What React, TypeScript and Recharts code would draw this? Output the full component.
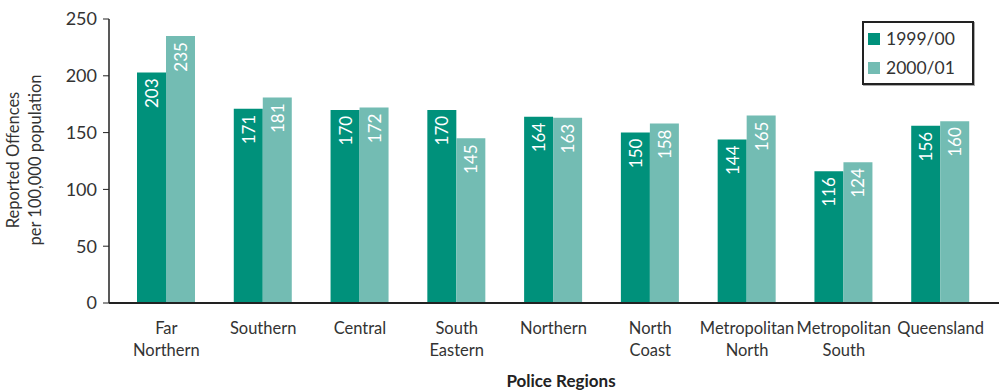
import React from 'react';
import { BarChart, Bar, XAxis, YAxis, LabelList } from 'recharts';

const regions = [
  'Far\nNorthern',
  'Southern',
  'Central',
  'South\nEastern',
  'Northern',
  'North\nCoast',
  'Metropolitan\nNorth',
  'Metropolitan\nSouth',
  'Queensland',
];
const y1999 = [203, 171, 170, 170, 164, 150, 144, 116, 156];
const y2000 = [235, 181, 172, 145, 163, 158, 165, 124, 160];
const yTicks = [0, 50, 100, 150, 200, 250];
const seriesNames = ['1999/00', '2000/01'];

const DARK = '#00917B';
const LIGHT = '#73BCB3';
const FONT = 'Lato, "Open Sans", sans-serif';

const data = regions.map((r, i) => ({ region: r, a: y1999[i], b: y2000[i] }));

const XTick = (props: any) => {
  const { x, y, payload } = props;
  const lines = String(payload.value).split('\n');
  return (
    <text x={x} y={y + 23} textAnchor="middle" fill="#333" fontSize={16.5} fontFamily={FONT}>
      {lines.map((l, i) => (
        <tspan key={i} x={x} dy={i === 0 ? 0 : 22}>{l}</tspan>
      ))}
    </text>
  );
};

const BarLabel = (props: any) => {
  const { x, y, width, value } = props;
  const cx = x + width / 2;
  const ty = y + 6;
  return (
    <text
      x={cx}
      y={ty}
      transform={`rotate(-90, ${cx}, ${ty})`}
      textAnchor="end"
      dominantBaseline="central"
      fill="#fff"
      fontSize={17}
      fontFamily={FONT}
    >
      {value}
    </text>
  );
};

const LegendBox = () => (
  <div
    style={{
      position: 'absolute',
      left: 862,
      top: 21,
      width: 104,
      height: 59,
      border: '2px solid #222',
      boxShadow: '1px 1px 0 #aaa',
      padding: '1px 0 0 4px',
      fontFamily: FONT,
      fontSize: 17.5,
      color: '#333',
      background: '#fff',
      boxSizing: 'content-box',
    }}
  >
    {seriesNames.map((t, i) => (
      <div key={t} style={{ display: 'flex', alignItems: 'center', height: 29 }}>
        <span style={{ width: 12, height: 12, background: i === 0 ? DARK : LIGHT, marginRight: 6, display: 'inline-block' }} />
        {t}
      </div>
    ))}
  </div>
);

const YLabel = () => (
  <text
    transform="rotate(-90, 19, 160)"
    x={19}
    y={160}
    textAnchor="middle"
    fill="#333"
    fontSize={16.5}
    fontFamily={FONT}
  >
    <tspan x={19} dy={0}>Reported Offences</tspan>
    <tspan x={19} dy={22}>per 100,000 population</tspan>
  </text>
);

export default function App() {
  return (
    <div style={{ position: 'absolute', left: 0, top: 0, width: 999, height: 391, background: '#fff' }}>
      <BarChart
        width={999}
        height={391}
        data={data}
        margin={{ top: 19, right: 0, left: 0, bottom: 0 }}
        barGap={0}
      >
        <XAxis
          dataKey="region"
          interval={0}
          tickLine={false}
          tick={<XTick />}
          axisLine={{ stroke: '#222', strokeWidth: 2 }}
          padding={{ left: 9, right: 10 }}
          height={88}
        />
        <YAxis
          domain={[0, 250]}
          ticks={yTicks}
          width={109}
          tickSize={6}
          tickMargin={6}
          tickLine={{ stroke: '#222' }}
          axisLine={{ stroke: '#222', strokeWidth: 1.5 }}
          tick={{ fill: '#333', fontSize: 18, fontFamily: FONT }}
          label={<YLabel />}
        />
        <Bar dataKey="a" name={seriesNames[0]} fill={DARK} barSize={29} isAnimationActive={false}>
          <LabelList dataKey="a" content={<BarLabel />} />
        </Bar>
        <Bar dataKey="b" name={seriesNames[1]} fill={LIGHT} barSize={29} isAnimationActive={false}>
          <LabelList dataKey="b" content={<BarLabel />} />
        </Bar>
        <text x={561} y={387} textAnchor="middle" fill="#222" fontSize={17} fontWeight="bold" fontFamily={FONT}>
          Police Regions
        </text>
      </BarChart>
      <LegendBox />
    </div>
  );
}
